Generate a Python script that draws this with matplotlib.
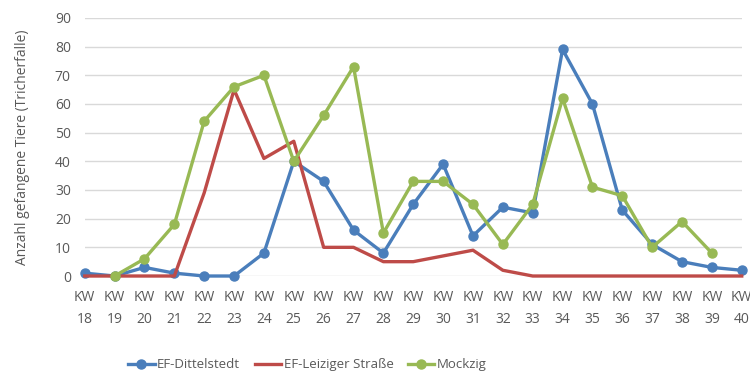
import matplotlib
matplotlib.use("Agg")
import matplotlib.pyplot as plt

# calendar weeks
weeks = list(range(18, 41))
week_labels = [f"KW\n{w}" for w in weeks]

dittelstedt = [1, 0, 3, 1, 0, 0, 8, 40, 33, 16, 8, 25, 39, 14, 24, 22, 79, 60, 23, 11, 5, 3, 2]
leiziger = [0, 0, 0, 0, 29, 65, 41, 47, 10, 10, 5, 5, 7, 9, 2, 0, 0, 0, 0, 0, 0, 0, 0]
# Mockzig starts at KW19 and ends at KW39
mockzig_weeks = list(range(19, 40))
mockzig = [0, 6, 18, 54, 66, 70, 40, 56, 73, 15, 33, 33, 25, 11, 25, 62, 31, 28, 10, 19, 8]

plt.rcParams['font.family'] = ['Open Sans', 'DejaVu Sans']
text_col = "#595959"

fig = plt.figure(figsize=(7.5, 3.74), dpi=100)
ax = fig.add_axes([0.113, 0.262, 0.876, 0.69])

ax.plot(weeks, dittelstedt, color="#4A7EBB", lw=2.4, marker="o", ms=6.5,
        label="EF-Dittelstedt", clip_on=False, zorder=3)
ax.plot(weeks, leiziger, color="#BE4B48", lw=2.4,
        label="EF-Leiziger Straße", clip_on=False, zorder=3)
ax.plot(mockzig_weeks, mockzig, color="#98B954", lw=2.4, marker="o", ms=6.5,
        label="Mockzig", clip_on=False, zorder=4)

ax.set_xlim(18, 40)
ax.set_ylim(0, 90)
ax.set_yticks(range(0, 91, 10))
ax.set_xticks(weeks)
ax.set_xticklabels(week_labels, linespacing=1.6)
ax.grid(axis="y", color="#D9D9D9", lw=1)
ax.set_axisbelow(True)
for s in ax.spines.values():
    s.set_visible(False)
ax.tick_params(length=0, colors=text_col, labelsize=10)
ax.tick_params(axis="x", pad=10)
ax.tick_params(axis="y", pad=10)
ax.set_ylabel("Anzahl gefangene Tiere (Tricherfalle)", color=text_col, fontsize=10, labelpad=18)

leg = fig.legend(loc="lower left", ncol=3, frameon=False, bbox_to_anchor=(0.155, -0.025),
                 fontsize=9.5, handlelength=2.0, handletextpad=0.2, columnspacing=1.1)
for t in leg.get_texts():
    t.set_color(text_col)

fig.savefig("out.png", dpi=100)
